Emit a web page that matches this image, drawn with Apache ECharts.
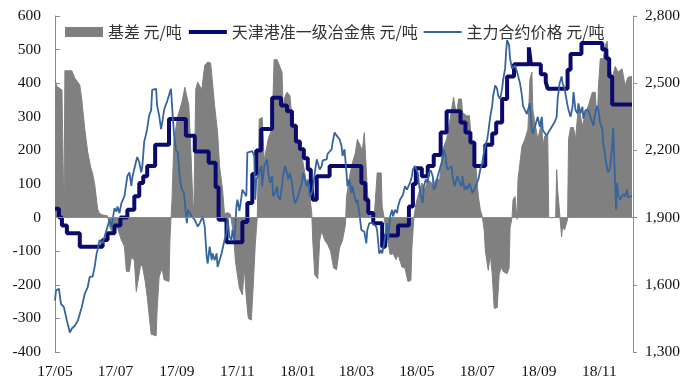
<!DOCTYPE html>
<html>
<head>
<meta charset="utf-8">
<script src="https://cdn.jsdelivr.net/npm/echarts@6/dist/echarts.min.js"></script>
<style>
  html, body { margin: 0; padding: 0; background: #ffffff; }
  #chart { width: 688px; height: 383px; }
</style>
</head>
<body>
<div id="chart"></div>
<script>
// Month labels along the bottom (every second month)
const monthTicks = ['2017-05-01', '2017-07-01', '2017-09-01', '2017-11-01', '2018-01-01',
  '2018-03-01', '2018-05-01', '2018-07-01', '2018-09-01', '2018-11-01'];

// Basis, 元/吨 (left axis)
const basisDates = ['2017-05-01','2017-05-03','2017-05-08','2017-05-09','2017-05-10','2017-05-11','2017-05-18','2017-05-21','2017-05-26','2017-05-28','2017-05-31','2017-06-03','2017-06-06','2017-06-08','2017-06-10','2017-06-13','2017-06-15','2017-06-18','2017-06-23','2017-06-25','2017-06-28','2017-07-01','2017-07-02','2017-07-05','2017-07-07','2017-07-10','2017-07-12','2017-07-15','2017-07-17','2017-07-20','2017-07-22','2017-07-24','2017-07-26','2017-07-28','2017-07-31','2017-08-02','2017-08-04','2017-08-06','2017-08-11','2017-08-12','2017-08-14','2017-08-17','2017-08-19','2017-08-24','2017-08-25','2017-08-27','2017-08-29','2017-09-02','2017-09-06','2017-09-09','2017-09-11','2017-09-13','2017-09-15','2017-09-17','2017-09-18','2017-09-20','2017-09-22','2017-09-26','2017-09-29','2017-10-02','2017-10-05','2017-10-07','2017-10-09','2017-10-12','2017-10-14','2017-10-17','2017-10-19','2017-10-22','2017-10-25','2017-10-28','2017-10-30','2017-11-03','2017-11-06','2017-11-08','2017-11-10','2017-11-12','2017-11-15','2017-11-17','2017-11-19','2017-11-21','2017-11-23','2017-11-26','2017-11-28','2017-12-02','2017-12-04','2017-12-06','2017-12-08','2017-12-11','2017-12-13','2017-12-16','2017-12-17','2017-12-19','2017-12-21','2017-12-24','2017-12-26','2017-12-28','2017-12-31','2018-01-03','2018-01-05','2018-01-08','2018-01-11','2018-01-13','2018-01-15','2018-01-16','2018-01-18','2018-01-21','2018-01-23','2018-01-25','2018-01-28','2018-01-31','2018-02-03','2018-02-06','2018-02-09','2018-02-12','2018-02-15','2018-02-18','2018-02-19','2018-02-22','2018-02-25','2018-02-28','2018-03-02','2018-03-04','2018-03-07','2018-03-09','2018-03-11','2018-03-12','2018-03-14','2018-03-16','2018-03-19','2018-03-22','2018-03-26','2018-03-27','2018-03-29','2018-04-01','2018-04-04','2018-04-07','2018-04-10','2018-04-12','2018-04-16','2018-04-19','2018-04-22','2018-04-25','2018-04-26','2018-04-28','2018-04-30','2018-05-02','2018-05-06','2018-05-09','2018-05-12','2018-05-16','2018-05-17','2018-05-20','2018-05-24','2018-05-27','2018-05-31','2018-06-03','2018-06-07','2018-06-09','2018-06-10','2018-06-12','2018-06-15','2018-06-16','2018-06-20','2018-06-23','2018-06-25','2018-06-27','2018-06-29','2018-07-02','2018-07-04','2018-07-06','2018-07-08','2018-07-09','2018-07-11','2018-07-12','2018-07-14','2018-07-16','2018-07-18','2018-07-21','2018-07-23','2018-07-25','2018-07-27','2018-07-31','2018-08-02','2018-08-03','2018-08-05','2018-08-06','2018-08-08','2018-08-10','2018-08-11','2018-08-13','2018-08-15','2018-08-18','2018-08-21','2018-08-23','2018-08-25','2018-08-26','2018-08-28','2018-08-31','2018-09-02','2018-09-04','2018-09-05','2018-09-07','2018-09-10','2018-09-11','2018-09-18','2018-09-19','2018-09-20','2018-09-22','2018-09-24','2018-09-25','2018-09-27','2018-09-30','2018-10-01','2018-10-03','2018-10-06','2018-10-08','2018-10-11','2018-10-15','2018-10-18','2018-10-21','2018-10-25','2018-10-28','2018-10-30','2018-10-31','2018-11-02','2018-11-05','2018-11-07','2018-11-09','2018-11-10','2018-11-12','2018-11-14','2018-11-17','2018-11-20','2018-11-24','2018-11-27','2018-11-30','2018-12-04'];
const basisValues = [410,390,380,380,0,437,437,415,395,350,265,195,150,130,100,25,12,8,5,-27,-45,-40,-20,-50,-67,-85,-160,-160,-117,-127,-220,-222,-147,-140,-190,-235,-237,-347,-352,-275,-177,-150,-185,-190,-60,53,233,303,343,388,388,333,200,50,20,383,403,380,453,463,460,463,333,253,153,83,10,15,10,-50,-130,-210,-230,-150,-240,-300,-305,-200,-80,0,293,298,170,233,250,263,470,470,473,433,333,360,373,363,293,273,233,213,183,133,83,63,13,-70,-170,-182,-67,-40,-67,-80,-100,-150,-155,-90,-68,-20,60,120,163,193,233,233,200,253,253,83,13,0,5,133,133,33,0,-60,-110,-107,-125,-110,-147,-150,-190,-187,-90,0,40,63,103,83,113,103,93,113,113,203,233,283,358,358,303,353,353,313,303,303,233,203,173,63,23,3,-40,-97,-97,-157,-110,-167,-270,-268,-170,-147,-160,-167,-150,-30,0,53,63,-5,113,163,213,233,263,410,433,320,283,233,260,283,213,243,243,0,0,143,83,13,-57,-27,-37,-5,233,268,268,233,333,273,313,333,373,373,263,383,473,473,513,525,473,440,413,450,433,443,393,418,420];

// Tianjin port quasi-first-grade met coke, 元/吨 (right axis), price at each change
const cokeDates = ['2017-05-01','2017-05-05','2017-05-08','2017-05-13','2017-05-26','2017-06-18','2017-06-23','2017-06-30','2017-07-06','2017-07-13','2017-07-20','2017-07-25','2017-07-29','2017-08-02','2017-08-10','2017-08-24','2017-09-10','2017-09-19','2017-10-03','2017-10-10','2017-10-13','2017-10-21','2017-11-06','2017-11-11','2017-11-16','2017-11-20','2017-11-25','2017-12-06','2017-12-15','2017-12-21','2017-12-26','2017-12-30','2018-01-03','2018-01-07','2018-01-11','2018-01-14','2018-01-16','2018-01-20','2018-02-02','2018-03-06','2018-03-10','2018-03-13','2018-03-18','2018-03-27','2018-03-30','2018-04-12','2018-04-23','2018-04-27','2018-04-30','2018-05-06','2018-05-12','2018-05-18','2018-05-25','2018-05-31','2018-06-14','2018-06-19','2018-06-24','2018-06-28','2018-07-09','2018-07-16','2018-07-20','2018-07-26','2018-07-31','2018-08-07','2018-08-22','2018-08-24','2018-09-03','2018-09-08','2018-09-10','2018-09-30','2018-10-03','2018-10-14','2018-11-04','2018-11-08','2018-11-11','2018-11-14','2018-12-04'];
const cokePrices = [1940,1900,1865,1830,1770,1800,1830,1865,1900,1935,1995,2055,2085,2130,2225,2340,2265,2195,2145,2035,1890,1790,1880,1965,2095,2200,2295,2435,2400,2375,2310,2240,2205,2165,2115,2070,1980,2085,2130,2055,1980,1920,1875,1770,1820,1865,1950,2050,2120,2085,2130,2180,2280,2375,2325,2280,2235,2130,2225,2275,2325,2430,2530,2585,2660,2585,2540,2505,2475,2560,2630,2680,2650,2610,2530,2405,2405];

// Main futures contract price, 元/吨 (right axis)
const futuresDates = ['2017-05-01','2017-05-02','2017-05-05','2017-05-07','2017-05-10','2017-05-13','2017-05-16','2017-05-18','2017-05-21','2017-05-24','2017-05-26','2017-05-28','2017-05-31','2017-06-03','2017-06-05','2017-06-08','2017-06-10','2017-06-12','2017-06-13','2017-06-15','2017-06-18','2017-06-20','2017-06-23','2017-06-25','2017-06-27','2017-06-30','2017-07-02','2017-07-03','2017-07-05','2017-07-07','2017-07-10','2017-07-12','2017-07-13','2017-07-15','2017-07-17','2017-07-18','2017-07-22','2017-07-23','2017-07-25','2017-07-27','2017-07-28','2017-07-30','2017-08-01','2017-08-02','2017-08-04','2017-08-06','2017-08-07','2017-08-09','2017-08-11','2017-08-12','2017-08-14','2017-08-16','2017-08-17','2017-08-19','2017-08-21','2017-08-22','2017-08-24','2017-08-26','2017-08-27','2017-08-29','2017-08-31','2017-09-02','2017-09-04','2017-09-06','2017-09-08','2017-09-11','2017-09-12','2017-09-16','2017-09-19','2017-09-22','2017-09-24','2017-09-27','2017-09-29','2017-10-01','2017-10-02','2017-10-04','2017-10-06','2017-10-07','2017-10-09','2017-10-11','2017-10-12','2017-10-14','2017-10-16','2017-10-19','2017-10-21','2017-10-22','2017-10-24','2017-10-26','2017-10-27','2017-10-29','2017-10-31','2017-11-01','2017-11-03','2017-11-05','2017-11-06','2017-11-08','2017-11-10','2017-11-11','2017-11-13','2017-11-16','2017-11-18','2017-11-19','2017-11-20','2017-11-23','2017-11-25','2017-11-26','2017-11-28','2017-12-01','2017-12-02','2017-12-04','2017-12-06','2017-12-07','2017-12-09','2017-12-11','2017-12-12','2017-12-14','2017-12-16','2017-12-17','2017-12-19','2017-12-21','2017-12-22','2017-12-24','2017-12-26','2017-12-27','2017-12-29','2017-12-31','2018-01-01','2018-01-03','2018-01-05','2018-01-06','2018-01-08','2018-01-10','2018-01-11','2018-01-13','2018-01-15','2018-01-16','2018-01-18','2018-01-20','2018-01-21','2018-01-23','2018-01-25','2018-01-26','2018-01-30','2018-01-31','2018-02-02','2018-02-04','2018-02-05','2018-02-07','2018-02-09','2018-02-10','2018-02-12','2018-02-14','2018-02-15','2018-02-17','2018-02-19','2018-02-20','2018-02-22','2018-02-24','2018-02-25','2018-02-27','2018-03-01','2018-03-02','2018-03-04','2018-03-06','2018-03-09','2018-03-11','2018-03-12','2018-03-14','2018-03-17','2018-03-21','2018-03-22','2018-03-24','2018-03-26','2018-03-27','2018-03-29','2018-04-01','2018-04-02','2018-04-04','2018-04-06','2018-04-07','2018-04-09','2018-04-11','2018-04-12','2018-04-14','2018-04-17','2018-04-19','2018-04-21','2018-04-24','2018-04-26','2018-04-27','2018-04-29','2018-05-02','2018-05-03','2018-05-05','2018-05-07','2018-05-08','2018-05-10','2018-05-12','2018-05-13','2018-05-15','2018-05-17','2018-05-18','2018-05-20','2018-05-22','2018-05-25','2018-05-27','2018-05-28','2018-05-30','2018-05-31','2018-06-01','2018-06-03','2018-06-05','2018-06-06','2018-06-08','2018-06-10','2018-06-11','2018-06-13','2018-06-15','2018-06-16','2018-06-18','2018-06-20','2018-06-21','2018-06-23','2018-06-25','2018-06-26','2018-06-28','2018-06-30','2018-07-02','2018-07-04','2018-07-06','2018-07-07','2018-07-09','2018-07-11','2018-07-12','2018-07-14','2018-07-16','2018-07-17','2018-07-19','2018-07-21','2018-07-22','2018-07-24','2018-07-26','2018-07-27','2018-07-29','2018-07-30','2018-07-31','2018-08-02','2018-08-03','2018-08-05','2018-08-06','2018-08-08','2018-08-10','2018-08-11','2018-08-13','2018-08-15','2018-08-16','2018-08-18','2018-08-20','2018-08-21','2018-08-23','2018-08-25','2018-08-26','2018-08-28','2018-08-31','2018-09-02','2018-09-04','2018-09-05','2018-09-07','2018-09-09','2018-09-10','2018-09-12','2018-09-15','2018-09-17','2018-09-19','2018-09-20','2018-09-22','2018-09-24','2018-09-25','2018-09-27','2018-09-30','2018-10-01','2018-10-03','2018-10-05','2018-10-06','2018-10-08','2018-10-10','2018-10-11','2018-10-13','2018-10-15','2018-10-16','2018-10-18','2018-10-20','2018-10-21','2018-10-23','2018-10-25','2018-10-26','2018-10-28','2018-10-30','2018-10-31','2018-11-02','2018-11-04','2018-11-05','2018-11-07','2018-11-09','2018-11-10','2018-11-12','2018-11-14','2018-11-15','2018-11-16','2018-11-18','2018-11-19','2018-11-20','2018-11-22','2018-11-24','2018-11-25','2018-11-27','2018-11-29','2018-11-30','2018-12-02','2018-12-04'];
const futuresPrices = [1530,1575,1582,1515,1500,1440,1387,1405,1417,1440,1432,1500,1560,1590,1635,1637,1680,1740,1757,1800,1785,1815,1860,1890,1860,1942,1927,1950,1920,1965,1995,2055,2085,2102,2042,2080,2155,2170,2147,2102,2125,2240,2275,2297,2357,2380,2470,2475,2475,2400,2357,2295,2320,2380,2407,2417,2447,2475,2402,2275,2200,2190,2070,2025,2012,1875,1935,1905,1890,1860,1875,1905,1860,1725,1695,1770,1710,1740,1710,1740,1680,1675,1740,1800,1830,1900,1815,1800,1845,1800,1950,1980,1930,1990,2025,2010,1995,2190,2197,2197,2175,1980,2070,2100,2130,2040,2130,2160,2100,2055,2085,1995,2010,2040,1995,1980,2040,2085,2130,2100,2070,2100,2055,2010,1965,1980,1995,2025,2055,2100,2070,2040,2070,1995,2010,2025,2100,2160,2145,2115,2130,2155,2160,2185,2190,2205,2235,2280,2267,2260,2250,2220,2175,2205,2100,2040,2070,2010,2040,1995,1965,1980,1920,1845,1837,1785,1845,1875,1875,1860,1840,1740,1755,1740,1785,1875,1800,1905,1935,1905,1935,1920,1950,1980,2002,2040,2025,2055,2085,2115,2130,2100,2055,1995,1965,2040,2070,2055,2100,2110,2085,2025,2040,2085,2130,2160,2205,2175,2130,2115,2115,2130,2085,2040,2070,2085,2055,2040,2085,2025,2040,2025,2055,2025,2010,2025,2025,2070,2115,2145,2175,2220,2250,2280,2350,2400,2445,2490,2475,2445,2430,2475,2515,2565,2640,2692,2670,2610,2565,2560,2580,2580,2535,2500,2445,2400,2380,2362,2380,2410,2290,2275,2305,2350,2305,2350,2290,2290,2265,2275,2290,2312,2327,2350,2430,2500,2530,2500,2475,2400,2380,2350,2395,2460,2380,2365,2410,2365,2395,2342,2380,2380,2380,2350,2342,2310,2365,2400,2380,2320,2297,2233,2173,2113,2102,2125,2222,2300,2170,1935,2055,2005,1980,1975,2005,1995,2025,1990,1997,1997];

function parseDay(s) {
  const p = s.split('-').map(Number);
  return new Date(p[0], p[1] - 1, p[2]).getTime();
}
function pairs(dates, values) {
  return dates.map((d, i) => [parseDay(d), values[i]]);
}

const AXIS_GRAY = '#8c8c8c';
const GRAY = '#808080';
const NAVY = '#0a0a6e';
const BLUE = '#36649e';
const NUM_FONT = { fontFamily: 'Liberation Serif', fontSize: 15.5, color: '#111' };

const chart = echarts.init(document.getElementById('chart'), null, { renderer: 'canvas' });

chart.setOption({
  animation: false,
  backgroundColor: '#ffffff',
  grid: { left: 55, right: 55, top: 16, bottom: 31 },
  legend: {
    left: 60,
    top: 19,
    itemGap: 5,
    itemWidth: 38,
    itemHeight: 10,
    textStyle: { fontFamily: 'Noto Sans CJK SC', fontSize: 16, color: '#333' },
    data: [
      { name: '基差 元/吨', icon: 'rect', itemStyle: { color: GRAY } },
      // line-only keys: hide the marker the line legend would otherwise draw
      { name: '天津港准一级冶金焦 元/吨', itemStyle: { opacity: 0 }, lineStyle: { color: NAVY, width: 4 } },
      { name: '主力合约价格 元/吨', itemStyle: { opacity: 0 }, lineStyle: { color: BLUE, width: 1.8 } }
    ]
  },
  xAxis: {
    // dates as millisecond timestamps on a linear scale
    type: 'value',
    min: parseDay('2017-05-01'),
    max: parseDay('2018-12-05'),
    axisLine: { show: false },
    axisTick: { show: false },
    splitLine: { show: false },
    axisLabel: Object.assign({
      customValues: monthTicks.map(parseDay),
      margin: 12,
      formatter: function (v) {
        const d = new Date(v);
        return String(d.getFullYear()).slice(2) + '/' + String(d.getMonth() + 1).padStart(2, '0');
      }
    }, NUM_FONT)
  },
  yAxis: [
    {
      type: 'value',
      min: -400,
      max: 600,
      interval: 100,
      axisLine: { show: true, lineStyle: { color: AXIS_GRAY, width: 1 } },
      axisTick: { show: true, inside: true, length: 5, lineStyle: { color: AXIS_GRAY } },
      splitLine: { show: false },
      axisLabel: Object.assign({ margin: 14 }, NUM_FONT)
    },
    {
      type: 'value',
      position: 'right',
      min: 1300,
      max: 2800,
      interval: 300,
      axisLine: { show: true, lineStyle: { color: AXIS_GRAY, width: 1 } },
      axisTick: { show: true, inside: false, length: 4, lineStyle: { color: AXIS_GRAY } },
      splitLine: { show: false },
      axisLabel: Object.assign({
        margin: 12,
        formatter: function (v) { return v.toLocaleString('en-US'); }
      }, NUM_FONT)
    }
  ],
  series: [
    {
      name: '基差 元/吨',
      type: 'line',
      yAxisIndex: 0,
      data: pairs(basisDates, basisValues),
      symbol: 'none',
      lineStyle: { color: GRAY, width: 1 },
      itemStyle: { color: GRAY },
      areaStyle: { color: GRAY, opacity: 1 },
      z: 1,
      markLine: {
        silent: true,
        symbol: 'none',
        label: { show: false },
        lineStyle: { color: AXIS_GRAY, width: 1, type: 'solid' },
        data: [{ yAxis: 0 }]
      }
    },
    {
      name: '天津港准一级冶金焦 元/吨',
      type: 'line',
      yAxisIndex: 1,
      step: 'end',
      data: pairs(cokeDates, cokePrices),
      symbol: 'none',
      lineStyle: { color: NAVY, width: 4 },
      itemStyle: { color: NAVY },
      z: 3
    },
    {
      name: '主力合约价格 元/吨',
      type: 'line',
      yAxisIndex: 1,
      data: pairs(futuresDates, futuresPrices),
      symbol: 'none',
      lineStyle: { color: BLUE, width: 1.8 },
      itemStyle: { color: BLUE },
      z: 4
    }
  ]
});
</script>
</body>
</html>
